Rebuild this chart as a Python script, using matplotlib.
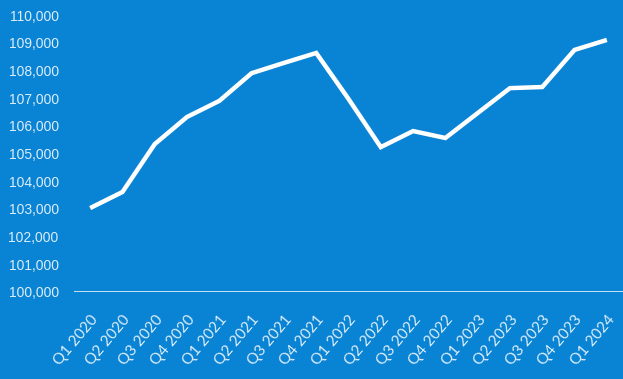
"""Quarterly index line on a solid blue panel, Q1 2020 to Q1 2024."""

import matplotlib.pyplot as plt
from matplotlib.ticker import FuncFormatter

quarters = [
    "Q1 2020", "Q2 2020", "Q3 2020", "Q4 2020",
    "Q1 2021", "Q2 2021", "Q3 2021", "Q4 2021",
    "Q1 2022", "Q2 2022", "Q3 2022", "Q4 2022",
    "Q1 2023", "Q2 2023", "Q3 2023", "Q4 2023",
    "Q1 2024",
]
values = [
    103030, 103610, 105340, 106320,
    106900, 107900, 108270, 108630,
    106970, 105230, 105810, 105560,
    106460, 107360, 107400, 108740,
    109100,
]
y_ticks = list(range(100000, 110001, 1000))

BG = "#0983D4"
TEXT = "#DCEEFA"


def main() -> None:
    fig = plt.figure(figsize=(6.23, 3.79), dpi=100, facecolor=BG)
    ax = fig.add_axes([0.1188, 0.2296, 0.8812, 0.7308], facecolor=BG)

    xs = list(range(len(quarters)))
    ax.plot(xs, values, color="white", linewidth=3.2,
            solid_joinstyle="miter", solid_capstyle="butt", zorder=3)
    ax.axhline(100000, color="white", linewidth=1.8, zorder=2)

    ax.set_xlim(-0.5, len(quarters) - 0.5)
    ax.set_ylim(100000, 110000)
    ax.set_yticks(y_ticks)
    ax.yaxis.set_major_formatter(FuncFormatter(lambda v, _: f"{v:,.0f}"))
    ax.set_xticks(xs)
    ax.set_xticklabels(quarters, rotation=50, ha="right",
                       rotation_mode="anchor", family="Lato", fontsize=11,
                       color=TEXT)

    for label in ax.get_yticklabels():
        label.set_family(["Liberation Sans Narrow", "Liberation Sans"])
        label.set_fontsize(10)
        label.set_color(TEXT)

    ax.tick_params(axis="y", length=0, pad=11)
    ax.tick_params(axis="x", length=0, pad=15)
    for spine in ax.spines.values():
        spine.set_visible(False)

    fig.savefig("out.png", dpi=100, facecolor=BG)


if __name__ == "__main__":
    main()
